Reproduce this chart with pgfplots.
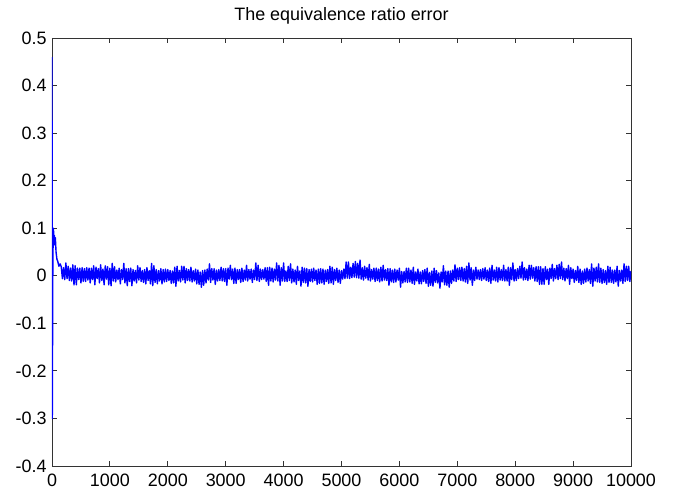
\documentclass[border=0pt]{standalone}
\usepackage{fontspec}
\setmainfont{Liberation Sans}
\usepackage{pgfplots}
\pgfplotsset{compat=1.18}
\usepackage{pgfplotstable}
\pgfplotstableread[row sep=\\]{
x y\\
0 0.46\\ 5 -0.30\\ 15 0.04\\ 25 0.10\\ 32 0.075\\ 40 0.085\\ 48 0.065\\ 58 0.08\\ 70 0.05\\ 85 0.035\\ 100 0.03\\ 120 0.02\\ 140 0.025\\
160 0.019\\ 180 -0.006\\ 200 0.017\\ 220 -0.008\\ 240 0.027\\ 260 -0.006\\ 280 0.020\\ 300 -0.010\\ 320 0.016\\ 340 -0.011\\
360 0.023\\ 380 -0.019\\ 400 0.021\\ 420 -0.019\\ 440 0.016\\ 460 -0.008\\ 480 0.016\\ 500 -0.015\\ 520 0.017\\ 540 -0.012\\
560 0.015\\ 580 -0.012\\ 600 0.017\\ 620 -0.009\\ 640 0.016\\ 660 -0.015\\ 680 0.016\\ 700 -0.008\\ 720 0.021\\ 740 -0.019\\
760 0.018\\ 780 -0.006\\ 800 0.015\\ 820 -0.015\\ 840 0.023\\ 860 -0.010\\ 880 0.014\\ 900 -0.019\\ 920 0.021\\ 940 -0.007\\
960 0.019\\ 980 -0.019\\ 1000 0.016\\ 1020 -0.021\\ 1040 0.026\\ 1060 -0.011\\ 1080 0.019\\ 1100 -0.013\\ 1120 0.012\\ 1140 -0.008\\
1160 0.016\\ 1180 -0.017\\ 1200 0.013\\ 1220 -0.008\\ 1240 0.026\\ 1260 -0.015\\ 1280 0.015\\ 1300 -0.021\\ 1320 0.015\\ 1340 -0.012\\
1360 0.016\\ 1380 -0.021\\ 1400 0.013\\ 1420 -0.011\\ 1440 0.011\\ 1460 -0.015\\ 1480 0.021\\ 1500 -0.009\\ 1520 0.017\\ 1540 -0.012\\
1560 0.011\\ 1580 -0.014\\ 1600 0.013\\ 1620 -0.017\\ 1640 0.017\\ 1660 -0.010\\ 1680 0.011\\ 1700 -0.017\\ 1720 0.026\\ 1740 -0.021\\
1760 0.021\\ 1780 -0.014\\ 1800 0.013\\ 1820 -0.017\\ 1840 0.011\\ 1860 -0.011\\ 1880 0.015\\ 1900 -0.017\\ 1920 0.013\\ 1940 -0.013\\
1960 0.014\\ 1980 -0.012\\ 2000 0.013\\ 2020 -0.010\\ 2040 0.011\\ 2060 -0.016\\ 2080 0.010\\ 2100 -0.015\\ 2120 0.018\\ 2140 -0.022\\
2160 0.020\\ 2180 -0.011\\ 2200 0.011\\ 2220 -0.013\\ 2240 0.020\\ 2260 -0.009\\ 2280 0.020\\ 2300 -0.015\\ 2320 0.015\\ 2340 -0.010\\
2360 0.013\\ 2380 -0.011\\ 2400 0.018\\ 2420 -0.013\\ 2440 0.011\\ 2460 -0.011\\ 2480 0.014\\ 2500 -0.017\\ 2520 0.012\\ 2540 -0.018\\
2560 0.008\\ 2580 -0.024\\ 2600 0.011\\ 2620 -0.020\\ 2640 0.012\\ 2660 -0.015\\ 2680 0.014\\ 2700 -0.009\\ 2720 0.025\\ 2740 -0.014\\
2760 0.015\\ 2780 -0.009\\ 2800 0.015\\ 2820 -0.018\\ 2840 0.012\\ 2860 -0.011\\ 2880 0.013\\ 2900 -0.010\\ 2920 0.018\\ 2940 -0.011\\
2960 0.015\\ 2980 -0.012\\ 3000 0.015\\ 3020 -0.020\\ 3040 0.016\\ 3060 -0.007\\ 3080 0.022\\ 3100 -0.008\\ 3120 0.014\\ 3140 -0.016\\
3160 0.016\\ 3180 -0.016\\ 3200 0.013\\ 3220 -0.008\\ 3240 0.013\\ 3260 -0.014\\ 3280 0.016\\ 3300 -0.012\\ 3320 0.012\\ 3340 -0.009\\
3360 0.022\\ 3380 -0.011\\ 3400 0.013\\ 3420 -0.007\\ 3440 0.014\\ 3460 -0.014\\ 3480 0.012\\ 3500 -0.008\\ 3520 0.027\\ 3540 -0.010\\
3560 0.022\\ 3580 -0.012\\ 3600 0.014\\ 3620 -0.008\\ 3640 0.013\\ 3660 -0.007\\ 3680 0.017\\ 3700 -0.012\\ 3720 0.017\\ 3740 -0.020\\
3760 0.018\\ 3780 -0.011\\ 3800 0.016\\ 3820 -0.013\\ 3840 0.014\\ 3860 -0.009\\ 3880 0.027\\ 3900 -0.011\\ 3920 0.022\\ 3940 -0.020\\
3960 0.017\\ 3980 -0.011\\ 4000 0.027\\ 4020 -0.012\\ 4040 0.010\\ 4060 -0.012\\ 4080 0.020\\ 4100 -0.010\\ 4120 0.025\\ 4140 -0.015\\
4160 0.014\\ 4180 -0.013\\ 4200 0.012\\ 4220 -0.018\\ 4240 0.020\\ 4260 -0.010\\ 4280 0.010\\ 4300 -0.022\\ 4320 0.018\\ 4340 -0.014\\
4360 0.016\\ 4380 -0.015\\ 4400 0.015\\ 4420 -0.022\\ 4440 0.013\\ 4460 -0.012\\ 4480 0.014\\ 4500 -0.013\\ 4520 0.016\\ 4540 -0.010\\
4560 0.012\\ 4580 -0.018\\ 4600 0.014\\ 4620 -0.016\\ 4640 0.015\\ 4660 -0.015\\ 4680 0.014\\ 4700 -0.018\\ 4720 0.012\\ 4740 -0.012\\
4760 0.013\\ 4780 -0.016\\ 4800 0.020\\ 4820 -0.015\\ 4840 0.018\\ 4860 -0.018\\ 4880 0.013\\ 4900 -0.010\\ 4920 0.016\\ 4940 -0.014\\
4960 0.012\\ 4980 -0.016\\ 5000 0.011\\ 5020 -0.007\\ 5040 0.014\\ 5060 -0.006\\ 5080 0.029\\ 5100 -0.005\\ 5120 0.029\\ 5140 -0.006\\
5160 0.018\\ 5180 -0.004\\ 5200 0.026\\ 5220 -0.003\\ 5240 0.030\\ 5260 -0.004\\ 5280 0.026\\ 5300 -0.005\\ 5320 0.033\\ 5340 -0.007\\
5360 0.017\\ 5380 -0.009\\ 5400 0.020\\ 5420 -0.005\\ 5440 0.017\\ 5460 -0.009\\ 5480 0.024\\ 5500 -0.011\\ 5520 0.013\\ 5540 -0.007\\
5560 0.016\\ 5580 -0.012\\ 5600 0.016\\ 5620 -0.010\\ 5640 0.014\\ 5660 -0.013\\ 5680 0.018\\ 5700 -0.011\\ 5720 0.022\\ 5740 -0.009\\
5760 0.013\\ 5780 -0.010\\ 5800 0.015\\ 5820 -0.020\\ 5840 0.015\\ 5860 -0.013\\ 5880 0.012\\ 5900 -0.014\\ 5920 0.014\\ 5940 -0.013\\
5960 0.012\\ 5980 -0.009\\ 6000 0.016\\ 6020 -0.024\\ 6040 0.009\\ 6060 -0.015\\ 6080 0.009\\ 6100 -0.013\\ 6120 0.016\\ 6140 -0.014\\
6160 0.016\\ 6180 -0.013\\ 6200 0.012\\ 6220 -0.016\\ 6240 0.018\\ 6260 -0.018\\ 6280 0.008\\ 6300 -0.011\\ 6320 0.014\\ 6340 -0.017\\
6360 0.008\\ 6380 -0.017\\ 6400 0.011\\ 6420 -0.012\\ 6440 0.013\\ 6460 -0.016\\ 6480 0.016\\ 6500 -0.022\\ 6520 0.007\\ 6540 -0.020\\
6560 0.010\\ 6580 -0.022\\ 6600 0.016\\ 6620 -0.014\\ 6640 0.011\\ 6660 -0.015\\ 6680 0.006\\ 6700 -0.026\\ 6720 0.008\\ 6740 -0.013\\
6760 0.021\\ 6780 -0.019\\ 6800 0.010\\ 6820 -0.020\\ 6840 0.010\\ 6860 -0.024\\ 6880 0.010\\ 6900 -0.016\\ 6920 0.012\\ 6940 -0.011\\
6960 0.023\\ 6980 -0.012\\ 7000 0.016\\ 7020 -0.008\\ 7040 0.017\\ 7060 -0.010\\ 7080 0.018\\ 7100 -0.011\\ 7120 0.015\\ 7140 -0.013\\
7160 0.020\\ 7180 -0.016\\ 7200 0.027\\ 7220 -0.009\\ 7240 0.017\\ 7260 -0.020\\ 7280 0.012\\ 7300 -0.010\\ 7320 0.018\\ 7340 -0.007\\
7360 0.012\\ 7380 -0.008\\ 7400 0.013\\ 7420 -0.010\\ 7440 0.015\\ 7460 -0.007\\ 7480 0.017\\ 7500 -0.010\\ 7520 0.012\\ 7540 -0.012\\
7560 0.016\\ 7580 -0.016\\ 7600 0.022\\ 7620 -0.009\\ 7640 0.012\\ 7660 -0.011\\ 7680 0.018\\ 7700 -0.013\\ 7720 0.017\\ 7740 -0.009\\
7760 0.013\\ 7780 -0.010\\ 7800 0.022\\ 7820 -0.011\\ 7840 0.013\\ 7860 -0.011\\ 7880 0.018\\ 7900 -0.020\\ 7920 0.017\\ 7940 -0.008\\
7960 0.027\\ 7980 -0.011\\ 8000 0.013\\ 8020 -0.010\\ 8040 0.015\\ 8060 -0.006\\ 8080 0.020\\ 8100 -0.005\\ 8120 0.029\\ 8140 -0.009\\
8160 0.017\\ 8180 -0.008\\ 8200 0.014\\ 8220 -0.010\\ 8240 0.022\\ 8260 -0.007\\ 8280 0.022\\ 8300 -0.005\\ 8320 0.017\\ 8340 -0.011\\
8360 0.019\\ 8380 -0.012\\ 8400 0.019\\ 8420 -0.018\\ 8440 0.019\\ 8460 -0.018\\ 8480 0.015\\ 8500 -0.018\\ 8520 0.019\\ 8540 -0.008\\
8560 0.014\\ 8580 -0.018\\ 8600 0.016\\ 8620 -0.006\\ 8640 0.024\\ 8660 -0.011\\ 8680 0.015\\ 8700 -0.006\\ 8720 0.022\\ 8740 -0.008\\
8760 0.024\\ 8780 -0.006\\ 8800 0.029\\ 8820 -0.008\\ 8840 0.016\\ 8860 -0.011\\ 8880 0.015\\ 8900 -0.006\\ 8920 0.022\\ 8940 -0.018\\
8960 0.017\\ 8980 -0.006\\ 9000 0.014\\ 9020 -0.014\\ 9040 0.011\\ 9060 -0.010\\ 9080 0.020\\ 9100 -0.014\\ 9120 0.014\\ 9140 -0.018\\
9160 0.010\\ 9180 -0.016\\ 9200 0.014\\ 9220 -0.013\\ 9240 0.016\\ 9260 -0.011\\ 9280 0.013\\ 9300 -0.016\\ 9320 0.025\\ 9340 -0.022\\
9360 0.016\\ 9380 -0.011\\ 9400 0.018\\ 9420 -0.013\\ 9440 0.025\\ 9460 -0.014\\ 9480 0.016\\ 9500 -0.016\\ 9520 0.013\\ 9540 -0.014\\
9560 0.011\\ 9580 -0.018\\ 9600 0.020\\ 9620 -0.014\\ 9640 0.018\\ 9660 -0.014\\ 9680 0.012\\ 9700 -0.016\\ 9720 0.012\\ 9740 -0.013\\
9760 0.020\\ 9780 -0.022\\ 9800 0.011\\ 9820 -0.011\\ 9840 0.012\\ 9860 -0.016\\ 9880 0.025\\ 9900 -0.012\\ 9920 0.020\\ 9940 -0.010\\
9960 0.020\\ 9980 -0.012\\ 10000 0.010\\
}\errdata
\begin{document}
\begin{tikzpicture}
\begin{axis}[
  scale only axis,
  width=579bp, height=428bp,
  xmin=0, xmax=10000, ymin=-0.4, ymax=0.5,
  xtick={0,1000,2000,3000,4000,5000,6000,7000,8000,9000,10000},
  xticklabels={0,1000,2000,3000,4000,5000,6000,7000,8000,9000,10000},
  ytick={-0.4,-0.3,-0.2,-0.1,0,0.1,0.2,0.3,0.4,0.5},
  yticklabels={-0.4,-0.3,-0.2,-0.1,0,0.1,0.2,0.3,0.4,0.5},
  tick pos=both, xticklabel pos=lower, yticklabel pos=left,
  tick align=inside, major tick length=5bp,
  axis line style={line width=0.8bp, color=black!80},
  every tick/.style={line width=0.8bp, color=black!80},
  tick label style={font=\fontsize{18}{20}\selectfont},
  yticklabel style={xshift=-2bp},
  xticklabel style={inner sep=1bp, yshift=-7bp},
  title={The equivalence ratio error},
  title style={font=\fontsize{18}{20}\selectfont, at={(0.5,1)}, anchor=south, yshift=4bp},
  clip=true,
]
\addplot[color={rgb,255:red,0;green,0;blue,255}, line width=1.4bp, line join=round, no markers] table[x=x,y=y] {\errdata};
\end{axis}
\pgfresetboundingbox
\path ([shift={(-52bp,-25bp)}]current axis.south west) rectangle ([shift={(42bp,38bp)}]current axis.north east);
\end{tikzpicture}
\end{document}
